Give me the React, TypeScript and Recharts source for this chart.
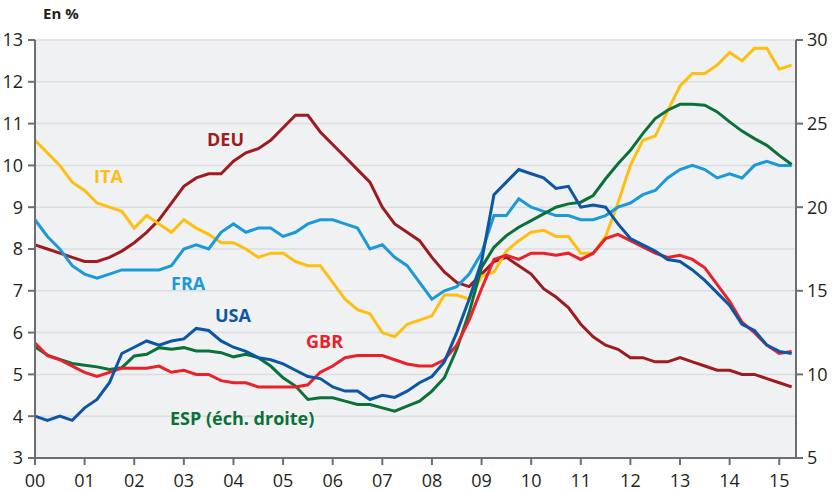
import React from 'react'
import { CartesianGrid, Line, LineChart, XAxis, YAxis } from 'recharts'

// quarterly unemployment rates, 2000Q1 .. 2015Q2
const yearLabels = ['00', '01', '02', '03', '04', '05', '06', '07', '08', '09', '10', '11', '12', '13', '14', '15']
const leftTicks = [3, 4, 5, 6, 7, 8, 9, 10, 11, 12, 13]
const rightTicks = [5, 10, 15, 20, 25, 30]

const deu = [8.1, 8.0, 7.9, 7.8, 7.7, 7.7, 7.8, 7.95, 8.15, 8.4, 8.7, 9.1, 9.5, 9.7, 9.8, 9.8, 10.1, 10.3, 10.4, 10.6, 10.9, 11.2, 11.2, 10.8, 10.5, 10.2, 9.9, 9.6, 9.0, 8.6, 8.4, 8.2, 7.8, 7.45, 7.2, 7.1, 7.4, 7.7, 7.8, 7.6, 7.4, 7.05, 6.85, 6.6, 6.2, 5.9, 5.7, 5.6, 5.4, 5.4, 5.3, 5.3, 5.4, 5.3, 5.2, 5.1, 5.1, 5.0, 5.0, 4.9, 4.8, 4.7]
const ita = [10.6, 10.3, 10.0, 9.6, 9.4, 9.1, 9.0, 8.9, 8.5, 8.8, 8.6, 8.4, 8.7, 8.5, 8.35, 8.15, 8.15, 8.0, 7.8, 7.9, 7.9, 7.7, 7.6, 7.6, 7.2, 6.8, 6.55, 6.45, 6.0, 5.9, 6.2, 6.3, 6.4, 6.9, 6.9, 6.8, 7.35, 7.45, 7.95, 8.2, 8.4, 8.45, 8.3, 8.3, 7.9, 7.9, 8.3, 9.1, 10.0, 10.6, 10.7, 11.3, 11.9, 12.2, 12.2, 12.4, 12.7, 12.5, 12.8, 12.8, 12.3, 12.4]
const fra = [8.7, 8.3, 8.0, 7.6, 7.4, 7.3, 7.4, 7.5, 7.5, 7.5, 7.5, 7.6, 8.0, 8.1, 8.0, 8.4, 8.6, 8.4, 8.5, 8.5, 8.3, 8.4, 8.6, 8.7, 8.7, 8.6, 8.5, 8.0, 8.1, 7.8, 7.6, 7.2, 6.8, 7.0, 7.1, 7.4, 7.9, 8.8, 8.8, 9.2, 9.0, 8.9, 8.8, 8.8, 8.7, 8.7, 8.8, 9.0, 9.1, 9.3, 9.4, 9.7, 9.9, 10.0, 9.9, 9.7, 9.8, 9.7, 10.0, 10.1, 10.0, 10.0]
const usa = [4.0, 3.9, 4.0, 3.9, 4.2, 4.4, 4.8, 5.5, 5.65, 5.8, 5.7, 5.8, 5.85, 6.1, 6.05, 5.8, 5.65, 5.55, 5.4, 5.35, 5.25, 5.1, 4.95, 4.9, 4.7, 4.6, 4.6, 4.4, 4.5, 4.45, 4.6, 4.8, 4.95, 5.3, 6.0, 6.8, 7.7, 9.3, 9.6, 9.9, 9.8, 9.7, 9.45, 9.5, 9.0, 9.05, 9.0, 8.6, 8.25, 8.1, 7.95, 7.75, 7.7, 7.5, 7.25, 6.95, 6.65, 6.2, 6.05, 5.7, 5.55, 5.5]
const gbr = [5.75, 5.45, 5.35, 5.2, 5.05, 4.95, 5.05, 5.15, 5.15, 5.15, 5.2, 5.05, 5.1, 5.0, 5.0, 4.85, 4.8, 4.8, 4.7, 4.7, 4.7, 4.7, 4.75, 5.05, 5.2, 5.4, 5.45, 5.45, 5.45, 5.35, 5.25, 5.2, 5.2, 5.35, 5.7, 6.3, 7.05, 7.75, 7.85, 7.75, 7.9, 7.9, 7.85, 7.9, 7.75, 7.9, 8.25, 8.35, 8.2, 8.05, 7.9, 7.8, 7.85, 7.75, 7.55, 7.15, 6.75, 6.25, 6.0, 5.7, 5.5, 5.55]
// right-hand scale
const esp = [11.65, 11.15, 10.9, 10.65, 10.55, 10.45, 10.3, 10.4, 11.1, 11.2, 11.6, 11.5, 11.6, 11.4, 11.4, 11.3, 11.05, 11.2, 11.0, 10.5, 9.8, 9.3, 8.5, 8.6, 8.6, 8.4, 8.2, 8.2, 8.0, 7.8, 8.1, 8.4, 9.0, 9.8, 11.5, 13.7, 16.4, 17.6, 18.3, 18.8, 19.2, 19.6, 20.0, 20.2, 20.3, 20.7, 21.7, 22.6, 23.4, 24.4, 25.3, 25.8, 26.15, 26.15, 26.1, 25.7, 25.1, 24.55, 24.1, 23.7, 23.1, 22.55]

const data = deu.map((v, i) => ({
  q: i,
  deu: v,
  ita: ita[i],
  fra: fra[i],
  usa: usa[i],
  gbr: gbr[i],
  esp: esp[i],
}))

const FONT = '"Open Sans", sans-serif'
const AXIS = '#6d6e71'
const TEXT = '#231f20'

const series = [
  { key: 'deu', color: '#9d1c20', axis: 'left' },
  { key: 'ita', color: '#fcbf12', axis: 'left' },
  { key: 'fra', color: '#1b9ad7', axis: 'left' },
  { key: 'esp', color: '#0b7138', axis: 'right' },
  { key: 'gbr', color: '#e8212b', axis: 'left' },
  { key: 'usa', color: '#0d56a3', axis: 'left' },
]

const labels = [
  { text: 'DEU', x: 207, y: 146, color: '#9d1c20' },
  { text: 'ITA', x: 94, y: 183, color: '#fcbf12' },
  { text: 'FRA', x: 171, y: 290, color: '#1b9ad7' },
  { text: 'USA', x: 215, y: 322, color: '#0d56a3' },
  { text: 'GBR', x: 306, y: 348, color: '#e8212b' },
  { text: 'ESP (éch. droite)', x: 170, y: 425, color: '#0b7138' },
]

export default function App() {
  const tick = { fill: TEXT, fontSize: 18, fontFamily: FONT }
  return (
    <div style={{ position: 'absolute', left: 0, top: 0, width: 832, height: 491, background: '#fff' }}>
      <LineChart
        width={832}
        height={491}
        data={data}
        margin={{ top: 40, right: 0, bottom: 0, left: 0 }}
      >
        <CartesianGrid
          yAxisId="left"
          vertical={false}
          fill="#f0f1f3"
          fillOpacity={1}
          stroke="#dcdde0"
          strokeWidth={1.5}
        />
        <XAxis
          dataKey="q"
          type="number"
          domain={[0, 61.35]}
          ticks={yearLabels.map((_, i) => i * 4)}
          tickFormatter={(v) => yearLabels[v / 4]}
          height={33}
          tick={tick}
          tickSize={7}
          tickMargin={9}
          stroke={AXIS}
          strokeWidth={2}
          interval={0}
        />
        <YAxis
          yAxisId="left"
          domain={[3, 13]}
          ticks={leftTicks}
          width={35}
          tick={tick}
          tickSize={7}
          tickMargin={5}
          stroke={AXIS}
          strokeWidth={2}
          interval={0}
        />
        <YAxis
          yAxisId="right"
          orientation="right"
          domain={[5, 30]}
          ticks={rightTicks}
          width={36}
          tick={tick}
          tickSize={7}
          tickMargin={4}
          stroke={AXIS}
          strokeWidth={2}
          interval={0}
        />
        {series.map((s) => (
          <Line
            key={s.key}
            yAxisId={s.axis}
            dataKey={s.key}
            stroke={s.color}
            strokeWidth={3}
            dot={false}
            activeDot={false}
            type="linear"
            isAnimationActive={false}
          />
        ))}
      </LineChart>
      <svg
        width={832}
        height={491}
        style={{ position: 'absolute', left: 0, top: 0, pointerEvents: 'none' }}
      >
        <text x={43} y={19} fontFamily={FONT} fontSize={15} fontWeight="bold" fill={TEXT}>
          En %
        </text>
        {labels.map((l) => (
          <text key={l.text} x={l.x} y={l.y} fontFamily={FONT} fontSize={18} fontWeight="bold" fill={l.color}>
            {l.text}
          </text>
        ))}
      </svg>
    </div>
  )
}
